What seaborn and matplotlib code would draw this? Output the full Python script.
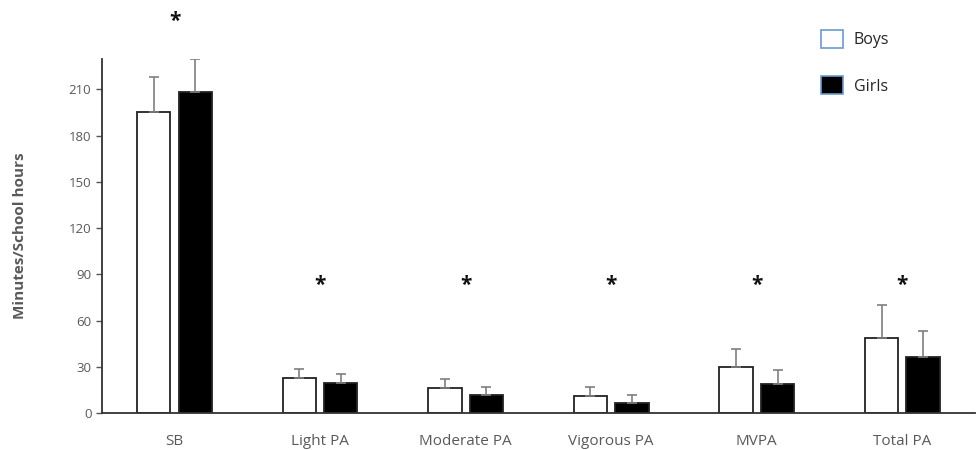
import pandas as pd
import matplotlib
matplotlib.use('Agg')
import matplotlib.pyplot as plt
import seaborn as sns
from matplotlib.patches import Patch

# 数据
categories = ['SB', 'Light PA', 'Moderate PA', 'Vigorous PA', 'MVPA', 'Total PA']
boys_mean = [195.3, 22.5, 16.2, 11.0, 29.9, 48.9]
boys_sd = [22.5, 6.3, 5.6, 6.1, 11.7, 21.2]
girls_mean = [208.5, 19.7, 11.5, 6.3, 18.8, 36.3]
girls_sd = [21.4, 5.4, 5.2, 5.6, 9.1, 16.9]
star_y = [254, 83, 83, 83, 83, 83]
y_ticks = [0, 30, 60, 90, 120, 150, 180, 210]

sns.set_theme(style='white')
plt.rcParams['font.family'] = ['Open Sans', 'DejaVu Sans']

df = pd.DataFrame({
    'category': categories * 2,
    'group': ['Boys'] * len(categories) + ['Girls'] * len(categories),
    'value': boys_mean + girls_mean,
})

fig, ax = plt.subplots(figsize=(9.79, 4.5), dpi=100)
fig.subplots_adjust(left=0.104, right=0.996, bottom=0.082, top=0.87)

sns.barplot(data=df, x='category', y='value', hue='group', order=categories,
            hue_order=['Boys', 'Girls'], palette={'Boys': 'white', 'Girls': 'black'},
            edgecolor='#222222', linewidth=1.3, width=0.57, gap=0.2,
            errorbar=None, legend=False, ax=ax)

# 误差线（只画上方）
n = len(categories)
sds = boys_sd + girls_sd
for patch, sd in zip(ax.patches[:2 * n], sds):
    x = patch.get_x() + patch.get_width() / 2
    y = patch.get_height()
    ax.errorbar(x, y, yerr=[[0], [sd]], fmt='none', ecolor='#7f7f7f',
                elinewidth=1.2, capsize=3.5, capthick=1.2, zorder=3)

# 显著性星号
for i, sy in enumerate(star_y):
    ax.text(i, sy, '*', ha='center', va='center', fontsize=15, fontweight='bold',
            color='#111111', clip_on=False)

ax.set_ylim(0, 230)
ax.set_yticks(y_ticks)
ax.set_xlim(-0.5, n - 0.5)
ax.set_xlabel('')
ax.set_ylabel('Minutes/School hours', fontsize=11, fontweight='bold', color='#595959', labelpad=30)
ax.tick_params(axis='y', labelsize=9.5, labelcolor='#595959', left=True, length=4,
               color='#555555', width=1)
ax.tick_params(axis='x', labelsize=11, labelcolor='#595959', bottom=False, pad=9)
sns.despine(ax=ax)
for s in ['left', 'bottom']:
    ax.spines[s].set_color('#333333')
    ax.spines[s].set_linewidth(1.3)

handles = [Patch(facecolor='white', edgecolor='#6a9bd1', linewidth=1.2, label='Boys'),
           Patch(facecolor='black', edgecolor='#6a9bd1', linewidth=1.2, label='Girls')]
fig.legend(handles=handles, loc='upper left', bbox_to_anchor=(0.824, 0.965), frameon=False,
           fontsize=11.5, handlelength=1.35, handleheight=1.35, labelspacing=1.75,
           handletextpad=0.7)

fig.savefig('out.png', dpi=100)
